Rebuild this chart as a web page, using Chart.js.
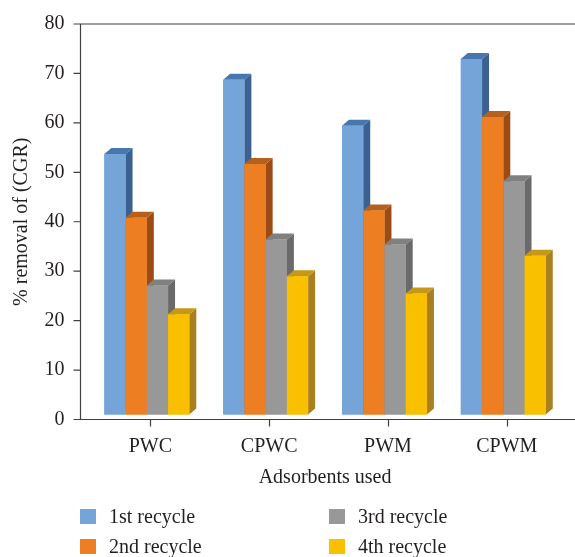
<!DOCTYPE html>
<html><head><meta charset="utf-8">
<script src="https://cdn.jsdelivr.net/npm/chart.js@4.4.0/dist/chart.umd.min.js"></script>
<style>
html,body{margin:0;padding:0;background:#fff;}
#wrap{position:relative;width:575px;height:557px;overflow:hidden;}
#legend{position:absolute;left:0;top:0;width:575px;height:557px;pointer-events:none;font-family:'Liberation Serif',serif;font-size:20px;color:#231f20;}
.li{position:absolute;display:flex;align-items:center;height:30px;white-space:nowrap;}
.sw{width:16px;height:15px;margin-right:13px;flex:none;}
</style></head><body>
<div id="wrap"><canvas id="c" width="575" height="557"></canvas><div id="legend"></div></div>
<script>
// ---- data ----
const categories = ['PWC', 'CPWC', 'PWM', 'CPWM'];
const seriesNames = ['1st recycle', '2nd recycle', '3rd recycle', '4th recycle'];
const recycle1 = [53.7, 68.7, 59.4, 72.9];
const recycle2 = [40.8, 51.7, 42.3, 61.2];
const recycle3 = [27.1, 36.4, 35.4, 48.2];
const recycle4 = [21.3, 29.0, 25.5, 33.1];
const yTickValues = [0, 10, 20, 30, 40, 50, 60, 70, 80];
const yAxisTitle = '% removal of (CGR)';
const xAxisTitle = 'Adsorbents used';

// ---- styles ----
const frontColors = ['#75A5D8', '#EE7E22', '#989898', '#F9C000'];
const sideColors  = ['#3A6191', '#9C4B17', '#6A6A6A', '#AA7F1F'];
const topColors   = ['#4777AD', '#B5611C', '#808080', '#C5981A'];
const TEXT = '#231f20';
const FONT = {family: "'Liberation Serif', 'Times New Roman', serif", size: 20};
const DX = 7, DY = 6;
const AREA = {left: 87.4, top: 24, right: 562.7, bottom: 419.5};

Chart.defaults.font.family = FONT.family;
Chart.defaults.color = TEXT;

const allSeries = [recycle1, recycle2, recycle3, recycle4];

const bar3d = {
  id: 'bar3d',
  afterDatasetsDraw(chart) {
    const ctx = chart.ctx;
    ctx.save();
    for (let i = 0; i < chart.data.labels.length; i++) {
      chart.data.datasets.forEach((ds, d) => {
        const el = chart.getDatasetMeta(d).data[i];
        const p = el.getProps(['x', 'y', 'base', 'width'], true);
        const l = p.x - p.width / 2, r = p.x + p.width / 2, t = p.y, b = p.base;
        ctx.fillStyle = sideColors[d];
        ctx.beginPath();
        ctx.moveTo(r, t); ctx.lineTo(r + DX, t - DY); ctx.lineTo(r + DX, b - DY); ctx.lineTo(r, b);
        ctx.closePath(); ctx.fill();
        ctx.fillStyle = topColors[d];
        ctx.beginPath();
        ctx.moveTo(l, t); ctx.lineTo(l + DX, t - DY); ctx.lineTo(r + DX, t - DY); ctx.lineTo(r, t);
        ctx.closePath(); ctx.fill();
        el.draw(ctx);
      });
    }
    ctx.restore();
  }
};

const frame = {
  id: 'frame',
  beforeDatasetsDraw(chart) {
    const {ctx, scales: {x, y}, chartArea} = chart;
    const ax = Math.round(chartArea.left - 7.4) + 0.5;
    const yTop = y.getPixelForValue(y.max), yBot = y.getPixelForValue(0);
    ctx.save();
    ctx.strokeStyle = '#404040';
    ctx.lineWidth = 1.2;
    ctx.beginPath();
    ctx.moveTo(ax, yTop); ctx.lineTo(ax, yBot);
    ctx.moveTo(ax, yTop); ctx.lineTo(chart.width, yTop);
    ctx.moveTo(ax, yBot); ctx.lineTo(chart.width, yBot);
    y.ticks.forEach(t => {
      const py = y.getPixelForValue(t.value);
      ctx.moveTo(ax - 7, py); ctx.lineTo(ax, py);
    });
    x.ticks.forEach((t, i) => {
      const px = Math.round(x.getPixelForTick(i) + DX / 2) + 0.5;
      ctx.moveTo(px, yBot); ctx.lineTo(px, yBot + 7);
    });
    ctx.stroke();
    ctx.restore();
  }
};

const chart = new Chart(document.getElementById('c'), {
  type: 'bar',
  data: {
    labels: categories,
    datasets: allSeries.map((vals, d) => ({
      label: seriesNames[d],
      data: vals,
      base: 1,
      backgroundColor: frontColors[d],
      borderWidth: 0,
      categoryPercentage: 0.715,
      barPercentage: 1.0
    }))
  },
  options: {
    responsive: false,
    animation: false,
    devicePixelRatio: 1,
    layout: {padding: {left: 0, right: 575 - AREA.right, top: AREA.top, bottom: 557 - AREA.bottom - 70}},
    plugins: {legend: {display: false}, tooltip: {enabled: false}},
    scales: {
      x: {
        offset: true,
        grid: {display: false, drawTicks: true, tickLength: 15.5},
        border: {display: false},
        ticks: {padding: 0, labelOffset: 3.5, font: FONT, color: TEXT, autoSkip: false, maxRotation: 0},
        title: {display: true, text: xAxisTitle, font: FONT, color: TEXT, padding: {top: 0, bottom: 0}},
        afterFit(s) { s.height = 70; }
      },
      y: {
        min: yTickValues[0],
        max: yTickValues[yTickValues.length - 1],
        afterBuildTicks(s) { s.ticks = yTickValues.map(v => ({value: v})); },
        grid: {display: false, drawTicks: true, tickLength: 23},
        border: {display: false},
        ticks: {padding: 0, font: FONT, color: TEXT},
        title: {display: true, text: yAxisTitle, font: FONT, color: TEXT, padding: {top: 10, bottom: 0}},
        afterFit(s) { s.width = AREA.left; }
      }
    }
  },
  plugins: [frame, bar3d]
});

// make sure the plot area lands where the reference has it
(function fixArea() {
  const ca = chart.chartArea, p = chart.options.layout.padding;
  const dT = AREA.top - ca.top, dB = ca.bottom - AREA.bottom, dR = ca.right - AREA.right;
  if (Math.abs(dT) > 0.2 || Math.abs(dB) > 0.2 || Math.abs(dR) > 0.2) {
    p.top += dT; p.bottom += dB; p.right += dR;
    chart.update();
  }
})();

// legend (two columns: 1st/2nd left, 3rd/4th right)
const legendPos = [[80, 516.7], [80, 546.7], [329, 516.7], [329, 546.7]];
const lg = document.getElementById('legend');
seriesNames.forEach((name, d) => {
  const it = document.createElement('div');
  it.className = 'li';
  it.style.left = legendPos[d][0] + 'px';
  it.style.top = (legendPos[d][1] - 15) + 'px';
  const sw = document.createElement('span');
  sw.className = 'sw';
  sw.style.background = frontColors[d];
  const tx = document.createElement('span');
  tx.textContent = name;
  it.appendChild(sw); it.appendChild(tx);
  lg.appendChild(it);
});
</script>
</body></html>
